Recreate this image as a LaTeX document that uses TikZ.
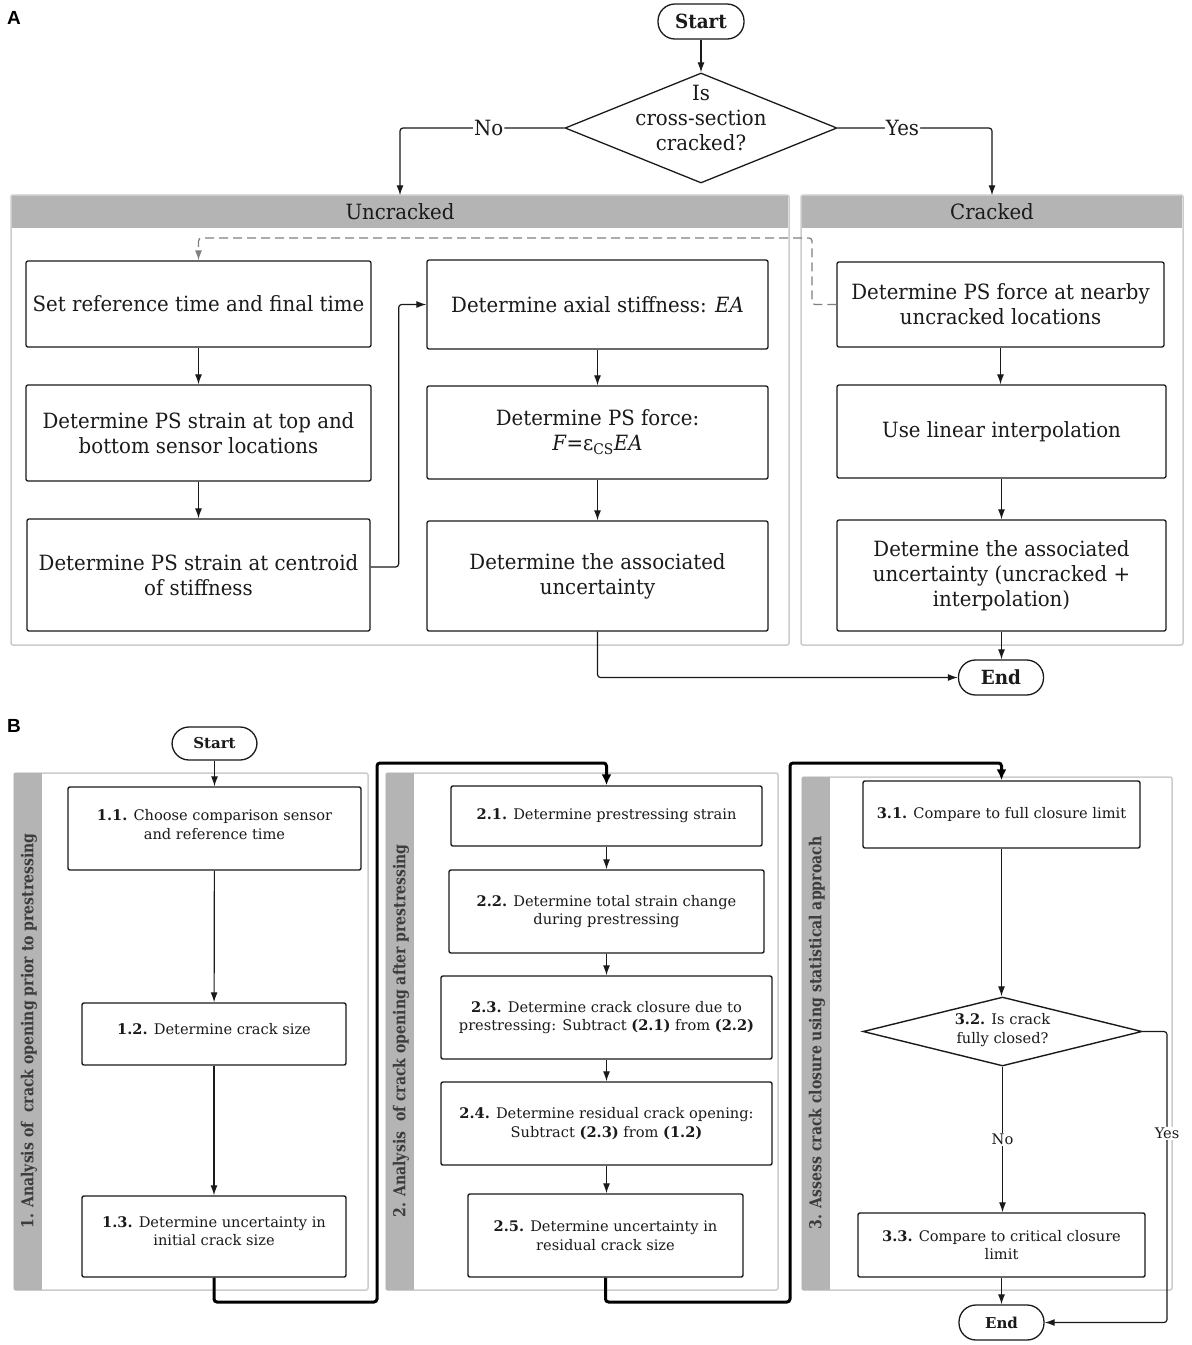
\documentclass[tikz,border=0pt]{standalone}
\usepackage{fontspec}
\setmainfont{DejaVu Serif}
\newfontfamily\afont[FakeStretch=0.94]{DejaVu Serif}
\newfontfamily\vfont[FakeStretch=0.85]{DejaVu Serif}
\newfontfamily\lblfont{Liberation Sans}
\usetikzlibrary{arrows.meta,shapes.geometric,calc}
\definecolor{ink}{HTML}{1A1A1A}
\definecolor{hdr}{HTML}{B4B4B4}
\definecolor{frame}{HTML}{CCCCCC}
\tikzset{
  afnt/.style={font=\afont\fontsize{21}{25}\selectfont},
  bfnt/.style={font=\fontsize{14.6}{18.5}\selectfont},
  abox/.style={draw=ink, line width=1.3pt, rounded corners=2pt, align=center, inner sep=0pt,
    afnt, text=ink},
  bbox/.style={draw=ink, line width=1.4pt, rounded corners=2pt, align=center, inner sep=0pt,
    bfnt, text=ink},
  term/.style={draw=ink, line width=1.3pt, rounded corners=17pt, inner sep=0pt, text=ink},
  conn/.style={draw=ink, line width=1.2pt, -{Latex[length=10pt,width=7pt]}},
  tconn/.style={draw=black, line width=3pt, rounded corners=3pt, -{Latex[length=11pt,width=10pt]}},
  dconn/.style={draw=gray, line width=1.3pt, dash pattern=on 9pt off 5pt, rounded corners=3pt, -{Latex[length=10pt,width=7pt]}},
  cont/.style={draw=frame, line width=1.5pt, rounded corners=2pt},
  hbar/.style={fill=hdr, draw=none},
  lab/.style={fill=white, inner sep=1pt, text=ink},
}
\begin{document}
\begin{tikzpicture}[x=1pt,y=-1pt]
\useasboundingbox (0,0) rectangle (1192,1345);
\fill[white] (0,0) rectangle (1192,1345);

% ---------- Part A ----------
\node[font=\lblfont\bfseries\fontsize{19}{20}\selectfont, anchor=center] (labA) at (14,18) {A};

\node[term, minimum width=86pt, minimum height=35pt, font=\afont\bfseries\fontsize{19.5}{24}\selectfont] (startA) at (701,21.5) {Start};
\node[diamond, draw=ink, line width=1.3pt, minimum width=272pt, minimum height=110pt, inner sep=0pt] (dec) at (701,128) {};
\node[align=center, afnt, text=ink] (dectext) at (701,118) {Is\\cross-section\\cracked?};

% containers
\draw[cont] (11,195) rectangle (789,645);
\node[hbar, minimum width=776pt, minimum height=32pt, inner sep=0pt, afnt, text=ink] (uhead) at (400,211.5) {Uncracked};
\draw[cont] (801,195) rectangle (1183,645);
\node[hbar, minimum width=380pt, minimum height=32pt, inner sep=0pt, afnt, text=ink] (chead) at (992,211.5) {Cracked};

\node[abox, minimum width=345pt, minimum height=86pt] (setref) at (198.5,304) {Set reference time and final time};
\node[abox, minimum width=345pt, minimum height=96pt] (pstop) at (198.5,433) {Determine PS strain at top and\\bottom sensor locations};
\node[abox, minimum width=343pt, minimum height=112pt] (pscen) at (198.5,575) {Determine PS strain at centroid\\of stiffness};
\node[abox, minimum width=341pt, minimum height=89pt] (axial) at (597.5,304.5) {Determine axial stiffness: \textit{EA}};
\node[abox, minimum width=341pt, minimum height=93pt] (psforce) at (597.5,432.5) {Determine PS force:\\\textit{F}=ε\textsubscript{CS}\textit{EA}};
\node[abox, minimum width=341pt, minimum height=110pt] (assocU) at (597.5,576) {Determine the associated\\uncertainty};
\node[abox, minimum width=327pt, minimum height=85pt] (nearby) at (1000.5,304.5) {Determine PS force at nearby\\uncracked locations};
\node[abox, minimum width=329pt, minimum height=93pt] (interp) at (1001.5,431.5) {Use linear interpolation};
\node[abox, minimum width=329pt, minimum height=111pt] (assocC) at (1001.5,575.5) {Determine the associated\\uncertainty (uncracked +\\interpolation)};
\node[term, minimum width=85pt, minimum height=35pt, font=\afont\bfseries\fontsize{19.5}{24}\selectfont] (endA) at (1001,677.5) {End};

\draw[conn] (startA) -- (dec.north);
\draw[conn, rounded corners=3pt] (dec.west) -| node[lab, afnt, pos=0.23]{No} (uhead.north);
\draw[conn, rounded corners=3pt] (dec.east) -| node[lab, afnt, pos=0.21]{Yes} (chead.north);
\draw[conn] (setref) -- (pstop);
\draw[conn] (pstop) -- (pscen);
\draw[conn, rounded corners=3pt] (pscen.east) ++(0,-8) coordinate (pce) -- ++(28,0) |- (axial.west);
\draw[conn] (axial) -- (psforce);
\draw[conn] (psforce) -- (assocU);
\draw[conn, rounded corners=3pt] (assocU.south) |- (endA.west);
\draw[conn] (nearby.south) -- (nearby.south |- interp.north);
\draw[conn] (interp) -- (assocC);
\draw[conn] (assocC.south) -- (assocC.south |- endA.north);
\coordinate (dk) at (812,238);
\draw[dconn] (nearby.west) -| (dk) -| (setref.north);

% ---------- Part B ----------
\node[font=\lblfont\bfseries\fontsize{19}{20}\selectfont] (labB) at (14,726) {B};
\node[term, minimum width=85pt, minimum height=33pt, font=\bfseries\fontsize{15}{18}\selectfont] (startB) at (214.5,743.5) {Start};

\draw[cont] (14,773) rectangle (368,1290);
\fill[hdr] (14,773) rectangle (42,1290);
\node[rotate=90, font=\vfont\bfseries\fontsize{16.5}{20}\selectfont, text=ink!85] (v1) at (29,1031) {1. Analysis of~~crack opening prior to prestressing};
\draw[cont] (386,773) rectangle (778,1290);
\fill[hdr] (386,773) rectangle (414,1290);
\node[rotate=90, font=\vfont\bfseries\fontsize{16.5}{20}\selectfont, text=ink!85] (v2) at (401,1031) {2. Analysis~~of crack opening after prestressing};
\draw[cont] (802,777) rectangle (1172,1290);
\fill[hdr] (802,777) rectangle (830,1290);
\node[rotate=90, font=\vfont\bfseries\fontsize{16.5}{20}\selectfont, text=ink!85] (v3) at (817,1033) {3. Assess crack closure using statistical approach};

\node[bbox, minimum width=293pt, minimum height=83pt, text depth=8pt] (b11) at (214.5,828.5) {\textbf{1.1.} Choose comparison sensor\\and reference time};
\node[bbox, minimum width=264pt, minimum height=62pt, text depth=10pt] (b12) at (214,1034) {\textbf{1.2.} Determine crack size};
\node[bbox, minimum width=264pt, minimum height=81pt, text depth=11pt] (b13) at (214,1236.5) {\textbf{1.3.} Determine uncertainty in\\initial crack size};

\node[bbox, minimum width=311pt, minimum height=60pt] (b21) at (606.5,816) {\textbf{2.1.} Determine prestressing strain};
\node[bbox, minimum width=315pt, minimum height=83pt] (b22) at (606.5,911.5) {\textbf{2.2.} Determine total strain change\\during prestressing};
\node[bbox, minimum width=331pt, minimum height=83pt] (b23) at (606.5,1017.5) {\textbf{2.3.} Determine crack closure due to\\prestressing: Subtract \textbf{(2.1)} from \textbf{(2.2)}};
\node[bbox, minimum width=331pt, minimum height=83pt] (b24) at (606.5,1123.5) {\textbf{2.4.} Determine residual crack opening:\\Subtract \textbf{(2.3)} from \textbf{(1.2)}};
\node[bbox, minimum width=275pt, minimum height=83pt] (b25) at (605.5,1235.5) {\textbf{2.5.} Determine uncertainty in\\residual crack size};

\node[bbox, minimum width=277pt, minimum height=67pt] (b31) at (1001.5,814.5) {\textbf{3.1.} Compare to full closure limit};
\node[diamond, draw=ink, line width=1.4pt, minimum width=279pt, minimum height=69pt, inner sep=0pt] (d32) at (1002.5,1031.5) {};
\node[align=center, bfnt, text=ink] (d32t) at (1002.5,1030) {\textbf{3.2.} Is crack\\fully closed?};
\node[bbox, minimum width=287pt, minimum height=64pt] (b33) at (1001.5,1245) {\textbf{3.3.} Compare to critical closure\\limit};
\node[term, minimum width=85pt, minimum height=35pt, font=\bfseries\fontsize{15}{18}\selectfont] (endB) at (1001.5,1322.5) {End};

\draw[conn] (startB) -- (b11);
\draw[conn] (b11) -- (b12);
\draw[conn] (b12) -- (b13);
\draw[conn] (b21.south) -- (b21.south |- b22.north);
\draw[conn] (b22) -- (b23);
\draw[conn] (b23) -- (b24);
\draw[conn] (b24.south) -- (b24.south |- b25.north);
\draw[conn] (b31.south) -- (b31.south |- d32.north);
\draw[conn] (d32.south) -- node[lab, bfnt]{No} (d32.south |- b33.north);
\draw[conn] (b33.south) -- (b33.south |- endB.north);
\coordinate (yc) at (1167,1031.5);
\draw[conn, rounded corners=3pt] (d32.east) -- (yc) |- node[lab, pos=0.175, bfnt]{Yes} (endB.east);

\coordinate (t1) at (377,1302);
\coordinate (t2) at (377,763);
\draw[tconn] (b13.south) |- (t1) -- (t2) -| (b21.north);
\coordinate (t3) at (790,1302);
\coordinate (t4) at (790,763);
\draw[tconn] (b25.south) |- (t3) -- (t4) -| (b31.north);
\end{tikzpicture}
\end{document}
